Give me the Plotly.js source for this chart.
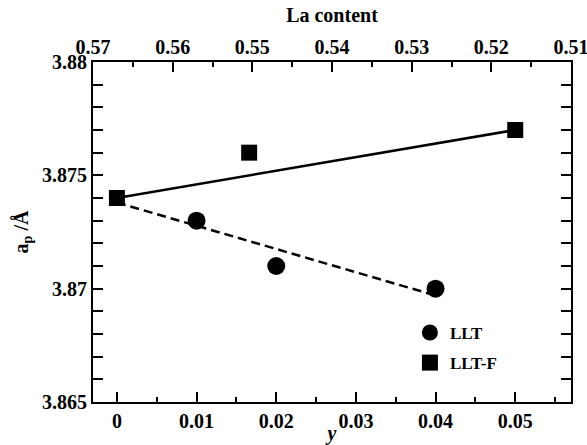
<!DOCTYPE html>
<html><head><meta charset="utf-8">
<script src="https://cdn.plot.ly/plotly-3.0.1.min.js"></script>
<style>html,body{margin:0;padding:0;background:#fff}#chart{width:587px;height:445px}</style>
</head><body><div id="chart"></div>
<script>
// LLT (circles)
const lltX = [0.01, 0.02, 0.04];
const lltY = [3.873, 3.871, 3.870];
// LLT-F (squares)
const lltfX = [0, 0.0166, 0.05];
const lltfY = [3.874, 3.876, 3.877];
// fitted lines
const fitLltX = [0.0, 0.04];
const fitLltY = [3.8738, 3.8697];
const fitLltfX = [0.0, 0.05];
const fitLltfY = [3.874, 3.877];
// tick labels
const xTicks = [0, 0.01, 0.02, 0.03, 0.04, 0.05];
const xTickText = ['0', '0.01', '0.02', '0.03', '0.04', '0.05'];
const yTicks = [3.865, 3.87, 3.875, 3.88];
const yTickText = ['3.865', '3.87', '3.875', '3.88'];
// top axis (La content) range and ticks
const laRange = [0.57, 0.51];
const laTicks = [0.57, 0.56, 0.55, 0.54, 0.53, 0.52, 0.51];
const laTickText = ['0.57', '0.56', '0.55', '0.54', '0.53', '0.52', '0.51'];

const fam = '"Liberation Serif", "Times New Roman", serif';
const bold = s => '<b>' + s + '</b>';
const tickFont = {family: fam, size: 20, color: '#000'};

const traces = [
  {x: fitLltX, y: fitLltY, mode: 'lines', line: {color: '#000', width: 2.5, dash: '9px,5px'}, showlegend: false, hoverinfo: 'skip'},
  {x: fitLltfX, y: fitLltfY, mode: 'lines', line: {color: '#000', width: 2.5}, showlegend: false, hoverinfo: 'skip'},
  {x: lltX, y: lltY, mode: 'markers', name: bold('LLT'), legendgroup: 'a', marker: {symbol: 'circle', size: 18, color: '#000'}},
  {x: lltfX, y: lltfY, mode: 'markers', name: bold('LLT-F'), legendgroup: 'b', marker: {symbol: 'square', size: 16, color: '#000'}},
  {x: laRange, y: [3.87, 3.87], xaxis: 'x2', mode: 'markers', marker: {opacity: 0}, showlegend: false, hoverinfo: 'skip'}
];

const layout = {
  width: 587, height: 445,
  margin: {l: 93, r: 16, t: 62, b: 43},
  paper_bgcolor: '#fff', plot_bgcolor: '#fff',
  font: {family: fam, color: '#000'},
  showlegend: true,
  legend: {x: 0.663, y: 0.256, xanchor: 'left', yanchor: 'top', bgcolor: 'rgba(0,0,0,0)',
           font: {family: fam, size: 17, color: '#000'}, traceorder: 'grouped', tracegroupgap: 5},
  xaxis: {
    range: [-0.003, 0.057], tickvals: xTicks, ticktext: xTickText.map(bold),
    ticks: 'inside', ticklen: 10, tickwidth: 2, tickcolor: '#000',
    minor: {dtick: 0.005, tick0: 0, ticks: 'inside', ticklen: 5, tickwidth: 2, tickcolor: '#000'},
    showline: true, linewidth: 2, linecolor: '#000', mirror: true,
    showgrid: false, zeroline: false, tickfont: tickFont, ticklabeloverflow: 'allow',
    title: {text: '<b><i>y</i></b>', font: {family: fam, size: 20, color: '#000'}, standoff: 0}
  },
  xaxis2: {
    overlaying: 'x', side: 'top', range: laRange, tickvals: laTicks, ticktext: laTickText.map(bold),
    ticks: 'inside', ticklen: 10, tickwidth: 2, tickcolor: '#000',
    minor: {dtick: 0.005, tick0: 0.51, ticks: 'inside', ticklen: 5, tickwidth: 2, tickcolor: '#000'},
    showline: false, showgrid: false, zeroline: false, tickfont: tickFont, ticklabeloverflow: 'allow',
    ticklabelstandoff: 3,
    title: {text: '<b>La content</b>', font: {family: fam, size: 20, color: '#000'}, standoff: 8}
  },
  yaxis: {
    range: [3.865, 3.88], tickvals: yTicks, ticktext: yTickText.map(bold),
    ticks: 'inside', ticklen: 10, tickwidth: 2, tickcolor: '#000',
    minor: {dtick: 0.001, tick0: 3.865, ticks: 'inside', ticklen: 5, tickwidth: 2, tickcolor: '#000'},
    showline: true, linewidth: 2, linecolor: '#000', mirror: 'allticks',
    showgrid: false, zeroline: false, tickfont: tickFont, ticklabeloverflow: 'allow',
    title: {text: '<b>a<sub>p</sub> /Å</b>', font: {family: fam, size: 20, color: '#000'}, standoff: 8}
  }
};

Plotly.newPlot('chart', traces, layout, {displayModeBar: false, staticPlot: true});
</script></body></html>
